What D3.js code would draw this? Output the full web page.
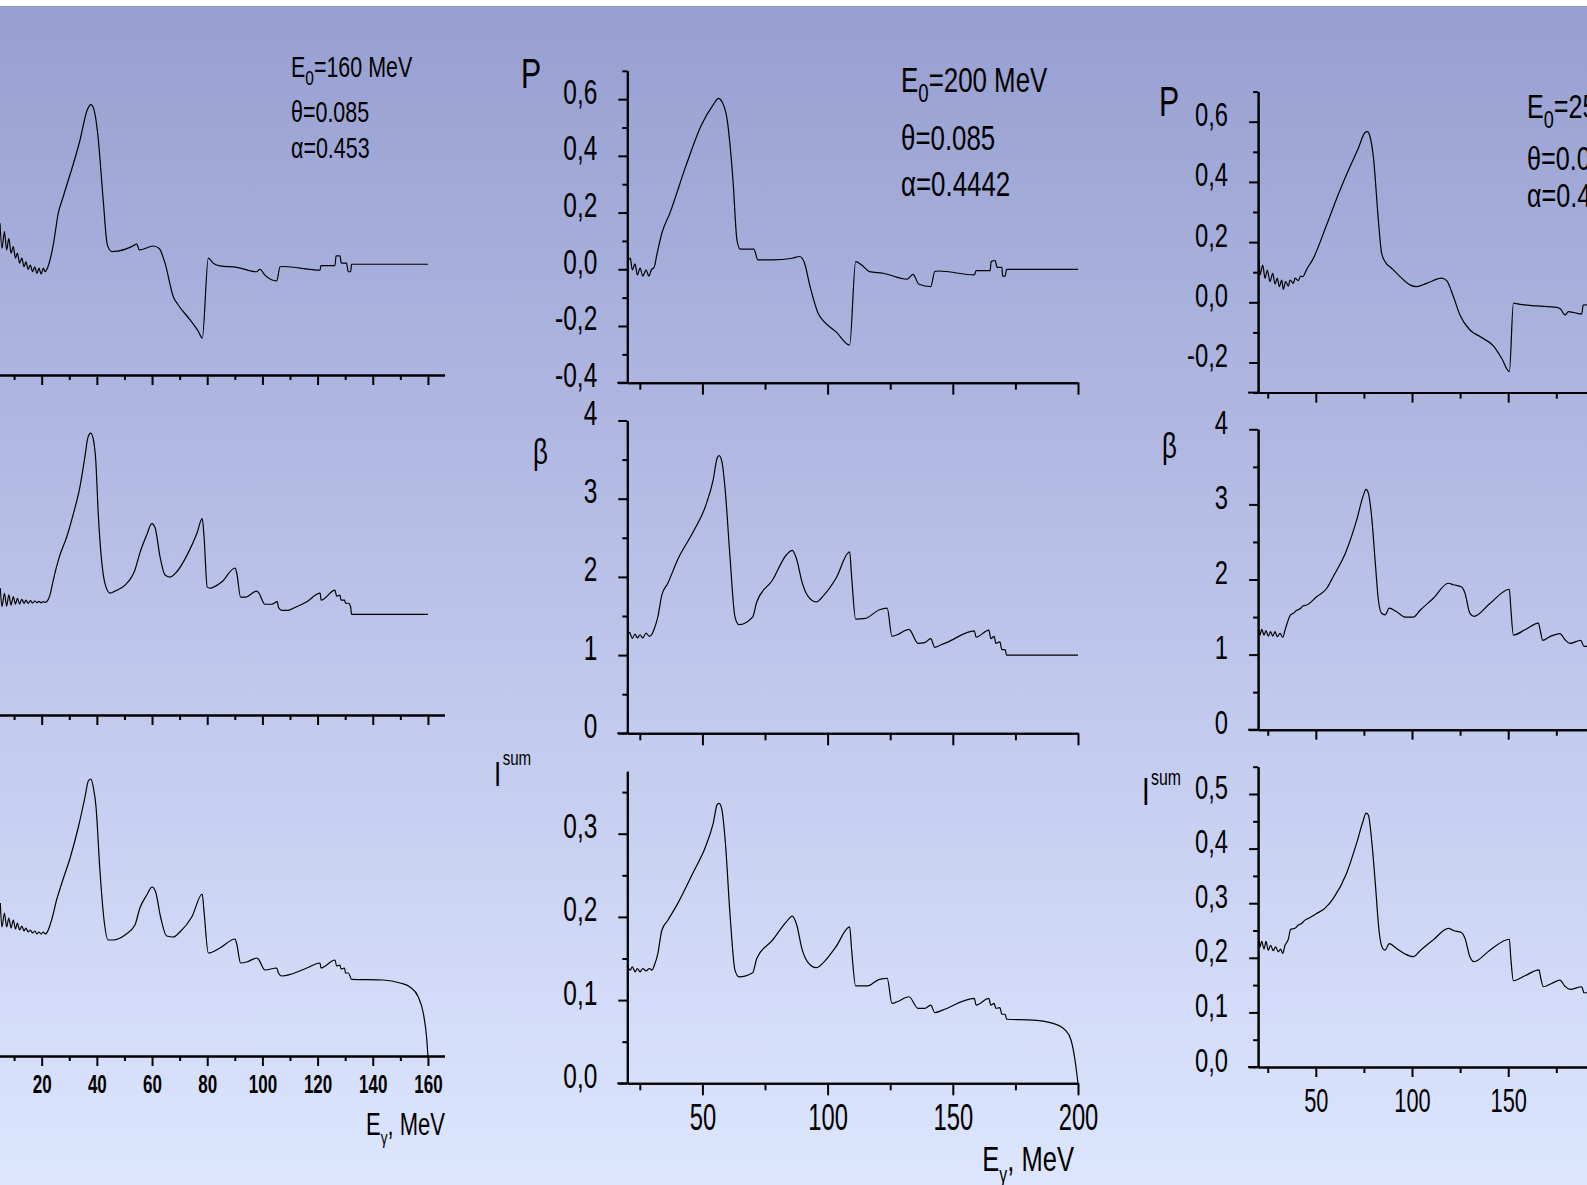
<!DOCTYPE html>
<html><head><meta charset="utf-8">
<script src="https://cdn.jsdelivr.net/npm/d3@7"></script>
<style>
html,body{margin:0;padding:0;overflow:hidden;background:#fff}
svg{display:block}
text{font-family:"Liberation Sans",Arial,sans-serif;fill:#000}
</style></head><body>
<svg id="c" width="1587" height="1185"></svg>
<script>
// ---------------- DATA ----------------
// E0 = 160 MeV column  [E_gamma (MeV), value]
const p160 = [[4.9,0.148],[5.6,0.058],[6.5,0.118],[7.3,0.052],[8.1,0.094],[8.9,0.040],[9.7,0.064],[10.5,0.022],[11.2,0.040],[12.0,0.004],[12.8,0.022],[13.6,-0.009],[14.3,0.009],[15.1,-0.018],[15.9,-0.003],[16.7,-0.027],[17.5,-0.009],[18.3,-0.033],[19.0,-0.014],[19.8,-0.035],[20.6,-0.014],[21.3,-0.027],[21.8,-0.02],[24.2,0.07],[26.0,0.184],[27.8,0.244],[33.9,0.449],[36.5,0.557],[37.8,0.577],[39.0,0.557],[40.3,0.473],[42.3,0.232],[43.8,0.07],[45.4,0.046],[53.8,0.07],[54.4,0.074],[55.4,0.052],[60.5,0.066],[62.6,0.057],[64.7,0.004],[67.7,-0.117],[69.5,-0.147],[73.8,-0.201],[76.8,-0.243],[78.2,-0.267],[80.4,0.022],[82.2,0.004],[84.6,-0.006],[90.7,-0.011],[97.9,-0.027],[99.1,-0.018],[100.9,-0.039],[105.2,-0.06],[106.4,-0.009],[107.6,-0.008],[120.9,-0.021],[121.2,-0.005],[126.3,-0.005],[126.7,0.03],[128.1,0.03],[128.6,0.004],[130.5,0.004],[131.1,-0.027],[132.0,-0.027],[132.3,0],[160,0]];
const b160 = [[5.0,1.258],[5.6,1.076],[6.5,1.208],[7.3,1.082],[8.1,1.192],[8.9,1.092],[9.7,1.175],[10.5,1.102],[11.2,1.159],[12.0,1.102],[12.8,1.149],[13.6,1.109],[14.3,1.142],[15.1,1.109],[15.9,1.135],[16.7,1.112],[17.5,1.132],[18.3,1.115],[19.0,1.129],[19.8,1.115],[20.6,1.125],[21.3,1.119],[21.8,1.125],[23.0,1.19],[24.2,1.34],[26.4,1.57],[29.1,1.77],[31.5,2.0],[33.9,2.27],[35.7,2.57],[36.7,2.75],[37.8,2.80],[38.7,2.74],[39.6,2.53],[40.5,2.0],[41.7,1.54],[42.9,1.31],[44.8,1.21],[46.6,1.23],[50.2,1.29],[53.8,1.44],[55.6,1.61],[58.1,1.79],[59.9,1.90],[61.1,1.86],[62.9,1.57],[64.7,1.39],[66.5,1.37],[68.9,1.42],[73.1,1.61],[76.2,1.80],[78.2,1.95],[78.8,1.79],[80.0,1.27],[81.0,1.26],[85.2,1.32],[90.1,1.46],[90.7,1.41],[92.1,1.17],[93.7,1.17],[97.9,1.23],[98.5,1.22],[100.9,1.10],[103.4,1.10],[105.4,1.125],[105.8,1.07],[107.0,1.04],[109.4,1.04],[111.2,1.06],[116.1,1.125],[120.9,1.21],[121.3,1.14],[126.3,1.24],[126.9,1.18],[128.1,1.19],[128.5,1.14],[129.8,1.14],[130.1,1.11],[131.2,1.11],[132.0,1.07],[132.3,1.0],[160,1.0]];
const i160 = [[5.0,0.153],[5.6,0.129],[6.5,0.143],[7.3,0.129],[8.1,0.138],[8.9,0.128],[9.7,0.136],[10.5,0.127],[11.2,0.133],[12.0,0.126],[12.8,0.130],[13.6,0.125],[14.3,0.128],[15.1,0.124],[15.9,0.126],[16.7,0.123],[17.5,0.125],[18.3,0.122],[19.0,0.124],[19.8,0.122],[20.6,0.124],[21.3,0.122],[21.8,0.123],[23.6,0.136],[25.4,0.156],[27.3,0.173],[30.3,0.198],[33.3,0.229],[35.7,0.259],[36.9,0.275],[37.8,0.277],[38.7,0.269],[39.7,0.249],[41.1,0.186],[42.6,0.136],[44.1,0.116],[45.9,0.116],[50.2,0.121],[53.8,0.131],[55.6,0.148],[58.1,0.161],[60.0,0.169],[61.3,0.164],[63.1,0.139],[65.3,0.12],[67.7,0.119],[70.1,0.124],[74.4,0.139],[78.2,0.162],[78.8,0.146],[80.4,0.103],[84.6,0.108],[90.1,0.117],[90.7,0.112],[92.1,0.093],[94.3,0.094],[97.9,0.098],[98.5,0.097],[100.9,0.086],[105.2,0.088],[105.8,0.083],[107.0,0.080],[110.6,0.082],[116.1,0.088],[120.9,0.093],[121.2,0.088],[126.3,0.096],[126.9,0.090],[128.1,0.091],[128.5,0.087],[129.8,0.088],[130.1,0.083],[131.2,0.083],[132.3,0.0767],[143.8,0.076],[149.9,0.073],[153.5,0.069],[156.5,0.059],[158.3,0.043],[159.6,0.016],[160,0]];

// E0 = 200 MeV column
const p200 = [[20,0.024],[21.2,0.039],[22.0,-0.002],[23.1,0.019],[24.0,-0.02],[25.1,0.004],[26.2,-0.024],[27.5,-0.002],[28.6,-0.024],[29.6,-0.002],[30.7,0.007],[31.9,0.056],[33.8,0.127],[37.0,0.198],[43.3,0.362],[49.6,0.509],[54.3,0.58],[56.4,0.603],[57.8,0.591],[59.9,0.527],[62.2,0.315],[63.8,0.103],[65.1,0.071],[70.5,0.071],[72.2,0.033],[78.0,0.033],[85.9,0.039],[88.8,0.045],[90.7,0.024],[93.0,-0.061],[96.2,-0.155],[98.6,-0.185],[103.3,-0.22],[108.8,-0.267],[111.2,0.027],[113.6,0.015],[116.7,-0.008],[122.2,-0.014],[131.7,-0.035],[134.1,-0.018],[136.5,-0.053],[141.2,-0.061],[142.8,-0.008],[144.3,-0.006],[158.6,-0.02],[159.3,-0.005],[164.9,-0.005],[165.3,0.027],[166.9,0.031],[167.7,0.007],[169.6,0.007],[169.9,-0.024],[170.9,-0.024],[171.5,0],[200,0]];
const b200 = [[20,1.236],[20.9,1.29],[22.0,1.215],[23.1,1.27],[24.0,1.22],[25.1,1.26],[26.2,1.22],[27.5,1.28],[28.8,1.24],[29.9,1.27],[30.7,1.33],[32.2,1.49],[33.8,1.77],[36.2,1.92],[40.1,2.22],[46.4,2.58],[51.2,2.90],[54.3,3.24],[55.9,3.52],[56.7,3.55],[57.8,3.47],[59.1,3.11],[61.0,2.26],[63.0,1.49],[64.6,1.39],[70.1,1.49],[71.7,1.68],[78.0,1.96],[83.5,2.28],[85.9,2.34],[87.5,2.24],[89.9,1.92],[92.2,1.75],[95.4,1.68],[98.6,1.77],[103.3,1.98],[108.8,2.32],[109.6,2.00],[111.2,1.46],[115.1,1.47],[120.7,1.58],[123.8,1.60],[125.7,1.24],[127.8,1.26],[132.5,1.33],[136.1,1.15],[138.8,1.16],[141.2,1.21],[142.8,1.10],[145.1,1.13],[147.5,1.16],[158.6,1.31],[159.3,1.23],[164.4,1.32],[165.2,1.21],[166.5,1.24],[167.2,1.15],[168.8,1.17],[169.6,1.07],[170.9,1.07],[171.5,1.0],[200,1.0]];
const i200 = [[20,0.141],[21.2,0.136],[22.0,0.140],[23.1,0.134],[24.0,0.138],[25.1,0.134],[26.2,0.138],[27.5,0.135],[28.8,0.138],[29.9,0.136],[30.7,0.141],[32.2,0.156],[33.8,0.184],[36.2,0.196],[40.1,0.216],[46.4,0.254],[51.2,0.284],[54.3,0.3125],[55.9,0.335],[56.7,0.3365],[57.8,0.3285],[59.1,0.292],[61.0,0.204],[63.0,0.136],[64.6,0.128],[70.1,0.133],[71.7,0.150],[78.0,0.172],[83.5,0.194],[85.9,0.201],[87.5,0.192],[89.9,0.160],[92.2,0.145],[95.4,0.139],[98.6,0.146],[103.3,0.164],[108.8,0.188],[109.6,0.160],[111.2,0.117],[115.9,0.117],[120.7,0.125],[123.8,0.126],[125.7,0.096],[127.8,0.098],[132.5,0.104],[136.1,0.090],[138.8,0.090],[141.2,0.094],[142.8,0.085],[145.9,0.088],[158.6,0.102],[159.3,0.094],[164.4,0.102],[165.2,0.094],[166.5,0.096],[167.2,0.090],[168.8,0.091],[169.6,0.083],[170.9,0.083],[171.5,0.077],[182.2,0.076],[190.1,0.072],[194.9,0.064],[197.2,0.052],[198.8,0.028],[200,0]];

// E0 = 250 MeV column (cut off at the right edge)
const p250 = [[20.6,0.141],[21.0,0.091],[22.4,0.124],[23.6,0.080],[24.8,0.107],[26.2,0.069],[27.6,0.096],[28.8,0.061],[30.0,0.080],[31.0,0.052],[32.3,0.074],[33.1,0.043],[34.3,0.069],[35.7,0.054],[36.6,0.074],[38.3,0.063],[39.2,0.080],[40.9,0.072],[42.1,0.087],[43.2,0.085],[45.3,0.11],[48.7,0.146],[55.6,0.257],[62.6,0.373],[67.8,0.451],[72.1,0.512],[75.6,0.564],[76.8,0.567],[78.2,0.550],[79.9,0.484],[82.5,0.274],[84.2,0.163],[86.0,0.135],[89.4,0.113],[92.9,0.091],[98.9,0.058],[102.4,0.052],[107.6,0.063],[115.4,0.080],[118.0,0.072],[121.5,0.019],[124.9,-0.042],[130.1,-0.092],[135.3,-0.114],[142.3,-0.145],[146.6,-0.186],[150.6,-0.230],[152.7,-0.003],[156.1,-0.007],[164.8,-0.012],[175.2,-0.017],[177.3,-0.023],[179.5,-0.042],[181.3,-0.031],[183.9,-0.034],[188.2,-0.039],[189.0,-0.009],[193,-0.008]];
const b250 = [[20.6,1.327],[21.0,1.26],[21.9,1.336],[23.1,1.26],[24.1,1.318],[25.3,1.247],[26.5,1.305],[27.6,1.247],[28.8,1.305],[30.0,1.238],[31.4,1.283],[32.8,1.229],[34.0,1.327],[36.9,1.53],[38.3,1.55],[40.1,1.59],[41.8,1.61],[43.5,1.65],[45.3,1.66],[50.4,1.77],[55.6,1.88],[59.1,2.04],[66.0,2.39],[71.2,2.79],[74.7,3.12],[76.1,3.20],[77.3,3.15],[79.0,2.84],[80.8,2.26],[82.5,1.73],[84.2,1.55],[86.0,1.53],[88.2,1.62],[92.0,1.57],[96.4,1.50],[100.7,1.50],[104.2,1.59],[111.1,1.75],[118.9,1.95],[121.5,1.93],[125.8,1.90],[127.5,1.82],[130.1,1.55],[132.2,1.51],[140.5,1.68],[150.6,1.87],[151.3,1.64],[152.7,1.26],[158.7,1.33],[165.7,1.42],[166.6,1.33],[167.9,1.19],[171.7,1.24],[176.9,1.28],[179.5,1.20],[182.1,1.15],[187.7,1.19],[189.4,1.11],[193,1.11]];
const i250 = [[20.6,0.233],[21.0,0.220],[21.9,0.230],[23.1,0.216],[24.1,0.230],[25.3,0.214],[26.5,0.223],[27.9,0.213],[29.1,0.220],[30.5,0.211],[31.7,0.216],[32.8,0.208],[34.0,0.223],[35.7,0.234],[36.9,0.252],[39.2,0.254],[40.9,0.260],[42.6,0.263],[44.4,0.269],[46.1,0.272],[50.4,0.281],[54.8,0.291],[59.1,0.309],[66.0,0.355],[71.2,0.410],[74.7,0.452],[76.1,0.465],[77.3,0.4615],[79.0,0.416],[80.8,0.342],[83.0,0.245],[84.8,0.217],[86.0,0.214],[88.2,0.226],[92.0,0.217],[96.4,0.207],[100.7,0.202],[104.2,0.213],[111.1,0.233],[118.9,0.254],[121.5,0.250],[125.8,0.246],[127.5,0.236],[130.1,0.202],[132.2,0.193],[140.5,0.214],[150.6,0.234],[151.3,0.202],[152.7,0.158],[158.7,0.167],[166.0,0.178],[166.9,0.163],[168.3,0.147],[172.6,0.153],[176.9,0.159],[179.5,0.148],[182.1,0.142],[188.2,0.147],[189.4,0.136],[193,0.136]];

// tick values
const xMajor160 = [0,20,40,60,80,100,120,140,160];
const xMinor160 = [10,30,50,70,90,110,130,150];
const xLabels160 = [20,40,60,80,100,120,140,160];
const xMajor200 = [50,100,150,200];
const xMinor200 = [25,75,125,175];
const xMajor250 = [50,100,150,200,250];
const xMinor250 = [25,75,125,175,225];
const pMajor = [-0.4,-0.2,0,0.2,0.4,0.6];
const pMinor = [-0.3,-0.1,0.1,0.3,0.5,0.7];
const bMajor = [0,1,2,3,4];
const bMinor = [0.5,1.5,2.5,3.5];
const iMajor = [0,0.1,0.2,0.3,0.4,0.5];
const iMinor = [0.05,0.15,0.25,0.35,0.45,0.55];

// annotation texts
const params160 = ["160 MeV","0.085","0.453"];
const params200 = ["200 MeV","0.085","0.4442"];
const params250 = ["250 MeV","0.085","0.44"];

// ---------------- DRAW ----------------
const W = 1587, H = 1185;
const svg = d3.select("#c");
const defs = svg.append("defs");
const grad = defs.append("linearGradient").attr("id","bg").attr("x1",0).attr("y1",0).attr("x2",0).attr("y2",1);
[["0%","#979fd1"],["35%","#afb7e1"],["70%","#c9d1f2"],["100%","#dde6fe"]]
  .forEach(([o,c]) => grad.append("stop").attr("offset",o).attr("stop-color",c));
svg.append("rect").attr("width",W).attr("height",H).attr("fill","#fff");
svg.append("rect").attr("y",6).attr("width",W).attr("height",H-6).attr("fill","url(#bg)");

function squeeze(sel, s) {
  sel.each(function() {
    const t = d3.select(this);
    const ax = +t.attr("x") || 0;
    t.attr("transform", `translate(${ax},0) scale(${s},1) translate(${-ax},0)`);
  });
}
const fmtDec = d => (d < 0 ? "-" : "") + Math.abs(d).toFixed(1).replace(".", ",");
const fmtInt = d => String(d);
const inDom = (arr, dom) => arr.filter(v => v >= dom[0] - 1e-9 && v <= dom[1] + 1e-9);

const columns = [
  { xDomain:[0,166], xRange:[-13.5,444.5], xMajor:xMajor160, xMinor:xMinor160, xLabels:xLabels160,
    xMajorLen:10, xMinorLen:5, xLabelY:37, xLabelSize:25, xLabelBold:true, ext:0, yLabels:false, yLabelSize:34,
    rows:[
      {data:p160, dom:[-0.4,0.7], rng:[375,70.5], major:pMajor, minor:pMinor, fmt:fmtDec},
      {data:b160, dom:[0,3.3], rng:[715,382.7], major:bMajor, minor:bMinor, fmt:fmtInt},
      {data:i160, dom:[0,0.3], rng:[1056,756], major:iMajor, minor:iMinor, fmt:fmtDec}
    ]},
  { xDomain:[20,200], xRange:[627.3,1078], xMajor:xMajor200, xMinor:xMinor200, xLabels:xMajor200,
    xMajorLen:12, xMinorLen:7, xLabelY:47, xLabelSize:36, xLabelBold:false, ext:10, yLabels:true, yLabelSize:35,
    rows:[
      {data:p200, dom:[-0.4,0.7], rng:[382.7,70.8], major:pMajor, minor:pMinor, fmt:fmtDec},
      {data:b200, dom:[0,4], rng:[733.3,420.5], major:bMajor, minor:bMinor, fmt:fmtInt},
      {data:i200, dom:[0,0.375], rng:[1083.3,771.3], major:iMajor, minor:iMinor, fmt:fmtDec}
    ]},
  { xDomain:[20,250], xRange:[1258.1,1700.6], xMajor:xMajor250, xMinor:xMinor250, xLabels:xMajor250,
    xMajorLen:10, xMinorLen:6, xLabelY:45, xLabelSize:33, xLabelBold:false, ext:10, yLabels:true, yLabelSize:34,
    rows:[
      {data:p250, dom:[-0.3,0.7], rng:[392.6,91.6], major:pMajor, minor:pMinor, fmt:fmtDec},
      {data:b250, dom:[0,4], rng:[729.7,429.3], major:bMajor, minor:bMinor, fmt:fmtInt},
      {data:i250, dom:[0,0.55], rng:[1067,766.7], major:iMajor, minor:iMinor, fmt:fmtDec}
    ]}
];

function styleAxis(g) {
  g.attr("font-size", null).attr("font-family", null);
  g.select(".domain").attr("stroke","#000").attr("stroke-width",2);
  g.selectAll(".tick line").attr("stroke","#000").attr("stroke-width",2);
}

columns.forEach((col, ci) => {
  const xs = d3.scaleLinear().domain(col.xDomain).range(col.xRange);
  col.rows.forEach((row, ri) => {
    const ys = d3.scaleLinear().domain(row.dom).range(row.rng);
    const x0 = col.xRange[0], yb = row.rng[0];
    const g = svg.append("g");

    // y axis: minor ticks, then major ticks with labels
    const gyMin = g.append("g").attr("transform",`translate(${x0},0)`)
      .call(d3.axisLeft(ys).tickValues(inDom(row.minor,row.dom)).tickSize(5).tickSizeOuter(0).tickFormat(""));
    styleAxis(gyMin);
    const gy = g.append("g").attr("transform",`translate(${x0},0)`)
      .call(d3.axisLeft(ys).tickValues(inDom(row.major,row.dom)).tickSize(9).tickSizeOuter(0)
            .tickFormat(col.yLabels ? row.fmt : ""));
    styleAxis(gy);
    gy.selectAll(".tick text").attr("x",-30).attr("dy",null).attr("y",4)
      .attr("text-anchor","end").style("font-size",col.yLabelSize+"px");
    squeeze(gy.selectAll(".tick text"), 0.7);

    // x axis
    const gxMin = g.append("g").attr("transform",`translate(0,${yb})`)
      .call(d3.axisBottom(xs).tickValues(col.xMinor).tickSize(col.xMinorLen).tickSizeOuter(0).tickFormat(""));
    styleAxis(gxMin);
    const isBottom = ri === 2;
    const gx = g.append("g").attr("transform",`translate(0,${yb})`)
      .call(d3.axisBottom(xs).tickValues(col.xMajor).tickSize(col.xMajorLen).tickSizeOuter(0)
            .tickFormat(d => (isBottom && col.xLabels.includes(d)) ? String(d) : ""));
    styleAxis(gx);
    gx.selectAll(".tick text").attr("dy",null).attr("y",col.xLabelY)
      .style("font-size",col.xLabelSize+"px").style("font-weight", col.xLabelBold ? "bold" : "normal");
    squeeze(gx.selectAll(".tick text"), col.xLabelBold ? 0.68 : 0.66);
    if (col.ext) {
      g.append("line").attr("x1",x0-col.ext).attr("x2",x0).attr("y1",yb).attr("y2",yb)
        .attr("stroke","#000").attr("stroke-width",2);
    }

    // curve (smooth through the read points)
    const line = d3.line().x(d => xs(d[0])).y(d => ys(d[1])).curve(d3.curveMonotoneX);
    g.append("path").datum(row.data).attr("d",line)
      .attr("fill","none").attr("stroke","#000").attr("stroke-width",1.2).attr("stroke-linejoin","round");
  });
});

// axis titles (P, beta, I^sum)
function axTitle(x, y, size, main, sup, supSize, supDx, supDy) {
  const t = svg.append("text").attr("x",x).attr("y",y).style("font-size",size+"px").text(main);
  if (sup) t.append("tspan").attr("dx",supDx).attr("dy",supDy).style("font-size",supSize+"px").text(sup);
  squeeze(t, 0.72);
}
axTitle(521, 88, 42, "P");
axTitle(533, 464, 36, "β");
axTitle(494, 786, 36, "I", "sum", 21, 2, -21);
axTitle(1159, 116, 42, "P");
axTitle(1162, 458, 36, "β");
axTitle(1142, 805, 38, "I", "sum", 22, 2, -20);

// parameter annotations
function annot(x, ys, size, p) {
  const t1 = svg.append("text").attr("x",x).attr("y",ys[0]).style("font-size",size+"px");
  t1.append("tspan").text("E");
  t1.append("tspan").attr("dy",size*0.28).style("font-size",(size*0.72)+"px").text("0");
  t1.append("tspan").attr("dy",-size*0.28).text("=" + p[0]);
  const t2 = svg.append("text").attr("x",x).attr("y",ys[1]).style("font-size",size+"px").text("θ=" + p[1]);
  const t3 = svg.append("text").attr("x",x).attr("y",ys[2]).style("font-size",size+"px").text("α=" + p[2]);
  [t1,t2,t3].forEach(t => squeeze(t, 0.74));
}
annot(291, [77,122,158], 29, params160);
annot(901, [92,150,196], 35, params200);
annot(1527, [118,170,207], 34, params250);

// x axis titles
function xTitle(x, y, size, anchor) {
  const t = svg.append("text").attr("x",x).attr("y",y).attr("text-anchor",anchor).style("font-size",size+"px");
  t.append("tspan").text("E");
  t.append("tspan").attr("dy",size*0.3).style("font-size",(size*0.62)+"px").text("γ");
  t.append("tspan").attr("dy",-size*0.3).text(", MeV");
  squeeze(t, 0.71);
}
xTitle(445, 1135, 31, "end");
xTitle(1074, 1171, 36, "end");
</script></body></html>
